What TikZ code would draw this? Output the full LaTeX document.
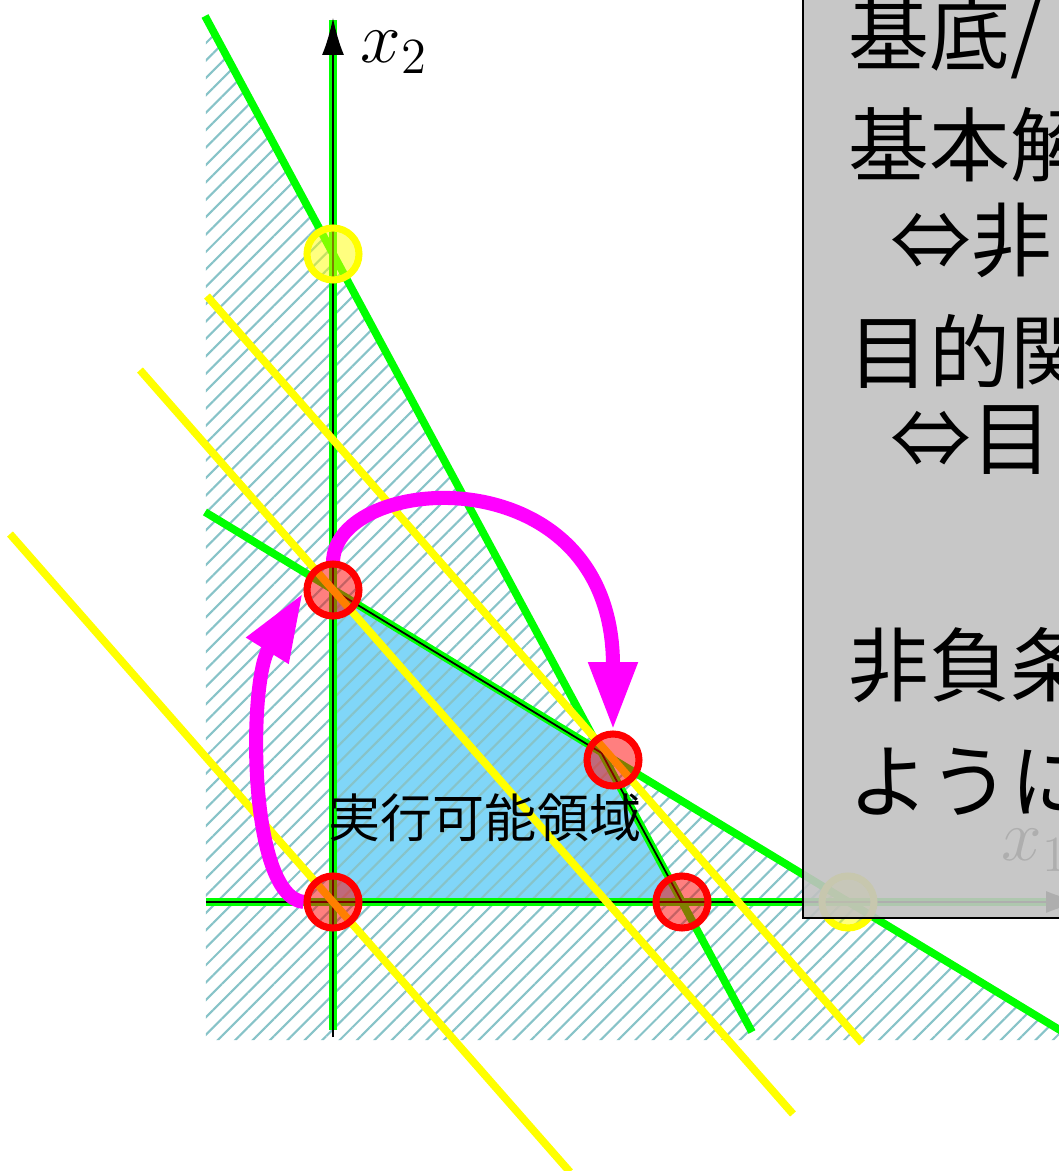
\documentclass[tikz,border=0pt]{standalone}
\usepackage{fontspec}
\usepackage{tikz}
\usepackage{xcolor}
\usetikzlibrary{arrows.meta,patterns.meta,calc}
\newfontfamily\jafont{Noto Sans CJK JP}
\definecolor{hatchcol}{RGB}{135,195,200}
\definecolor{feascol}{RGB}{128,214,248}
\definecolor{boxgray}{RGB}{193,193,193}
\definecolor{pathmag}{RGB}{255,0,255}
\definecolor{linegreen}{RGB}{0,255,0}
\definecolor{lineyellow}{RGB}{255,255,0}

\begin{document}
\begin{tikzpicture}[
  constr/.style={linegreen,line width=2.2pt},
  objline/.style={lineyellow,line width=2.2pt},
  axis/.style={black,line width=0.5pt,-{Latex[length=0.37cm,width=0.22cm]}},
  vtx/.style={circle,draw=red,line width=2pt,fill=red,fill opacity=0.5,draw opacity=1,minimum size=0.52cm,inner sep=0pt},
  basis/.style={circle,draw=lineyellow,line width=2pt,fill=lineyellow,fill opacity=0.5,draw opacity=1,minimum size=0.52cm,inner sep=0pt},
  move/.style={pathmag,line width=4pt,-{Triangle[length=0.68cm,width=0.46cm]}},
  boxtext/.style={anchor=west,inner sep=0pt,font=\jafont\fontsize{23}{28}\selectfont}
]
\useasboundingbox (-3.33,-2.69) rectangle (7.26,9.02);
\clip (-3.33,-2.69) rectangle (7.26,9.02);

\fill[feascol] (0,0) -- (0,3.12) -- (2.686,1.49) -- (3.49,0) -- cycle;
\fill[pattern={Lines[angle=45,distance=3.5pt,line width=0.6pt]},pattern color=hatchcol]
  (-1.27,-1.38) -- (7.26,-1.38) -- (7.26,-1.28) -- (2.686,1.49) -- (-1.206,8.72) -- (-1.27,8.72) -- cycle;

\draw[constr] (-1.28,8.86) -- (4.19,-1.30);
\draw[constr] (-1.28,3.90) -- (7.4,-1.36);
\draw[constr] (-1.27,0) -- (7.4,0);
\draw[constr] (0,-1.28) -- (0,8.82);

\draw[black,line width=0.5pt] (0,0) -- (0,3.12) -- (2.686,1.49) -- (3.49,0) -- cycle;
\draw[axis] (-1.27,0) -- (7.5,0);
\draw[axis] (0,-1.35) -- (0,8.84);
\node[anchor=west,inner sep=0pt,font=\fontsize{21}{25}\selectfont] (lx2) at (0.27,8.50) {$x_2$};
\node[anchor=west,inner sep=0pt,font=\fontsize{21}{25}\selectfont] (lx1) at (6.68,0.52) {$x_1$};

\draw[objline] (-3.23,3.68) -- (2.37,-2.70);
\draw[objline] (-1.93,5.32) -- (4.60,-2.12);
\draw[objline] (-1.26,6.06) -- (5.29,-1.41);

\node[font=\jafont\fontsize{14.8}{18}\selectfont] (feas) at (1.52,0.84) {実行可能領域};

\node[basis] (b1) at (0,6.48) {};
\node[basis] (b2) at (5.15,0) {};

\coordinate (c0) at (0,0);
\coordinate (c1) at (0,3.12);
\coordinate (c2) at (2.80,1.42);
\draw[move] ($(c0)+(-0.29,0)$) .. controls (-0.85,0.05) and (-0.85,2.2) .. ($(c1)+(-0.30,-0.03)$);
\draw[move] ($(c1)+(0,0.27)$) .. controls (0,4.3) and (2.8,4.5) .. ($(c2)+(0,0.30)$);

\node[vtx] (v0) at (c0) {};
\node[vtx] (v1) at (c1) {};
\node[vtx] (v2) at (c2) {};
\node[vtx] (v3) at (3.49,0) {};

\draw[black,line width=0.5pt,fill=boxgray,fill opacity=0.9] (4.70,-0.16) rectangle (8,9.5);
\node[boxtext] (t1) at (5.15,8.64) {基底/};
\node[boxtext] (t2) at (5.15,7.57) {基本解};
\node[boxtext] (t3) at (5.57,6.62) {⇔非};
\node[boxtext] (t4) at (5.15,5.50) {目的関};
\node[boxtext] (t5) at (5.57,4.62) {⇔目};
\node[boxtext] (t6) at (5.15,2.37) {非負条};
\node[boxtext] (t7) at (5.15,1.20) {ように};
\end{tikzpicture}
\end{document}
